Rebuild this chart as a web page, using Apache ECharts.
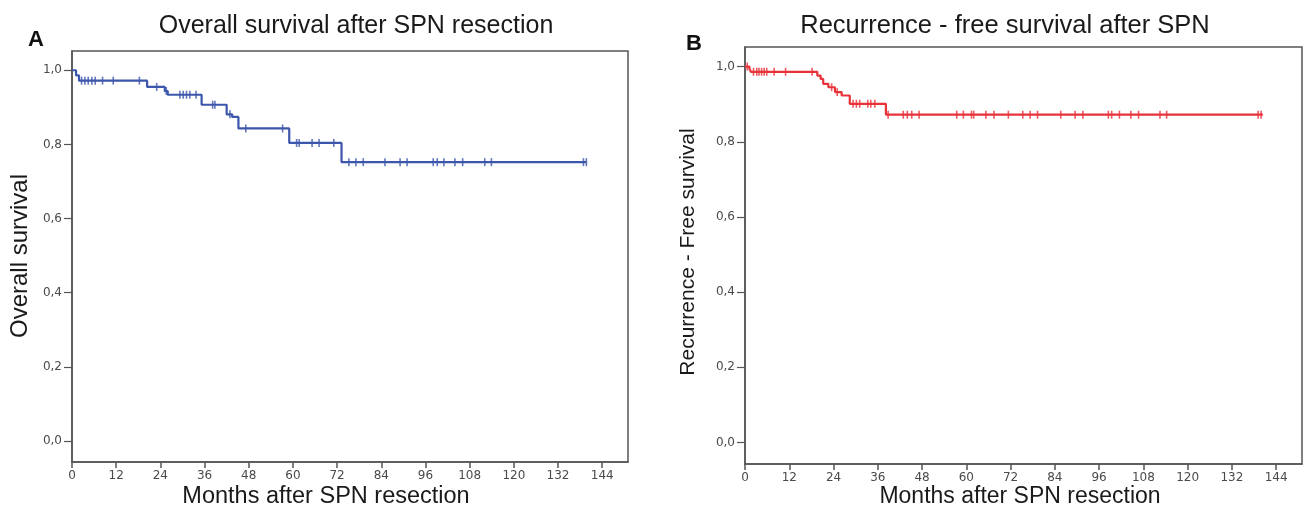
<!DOCTYPE html>
<html>
<head>
<meta charset="utf-8">
<script src="https://cdn.jsdelivr.net/npm/echarts@6/dist/echarts.min.js"></script>
<style>
html,body{margin:0;padding:0;background:#fff;}
#chart{width:1308px;height:513px;}
</style>
</head>
<body>
<div id="chart"></div>
<script>
// ---- Data ----
const xTicks = [0, 12, 24, 36, 48, 60, 72, 84, 96, 108, 120, 132, 144];
const yTicks = [0, 0.2, 0.4, 0.6, 0.8, 1.0];

// Panel A: overall survival (Kaplan-Meier steps)
const osEventTimes  = [0, 1.1, 1.9, 20.4, 25.2, 26.0, 35.2, 42.0, 43.5, 45.2, 59.0, 73.2, 139.7];
const osEventValues = [1.0, 0.986, 0.972, 0.955, 0.944, 0.934, 0.907, 0.881, 0.874, 0.843, 0.804, 0.752, 0.752];
const osCensorTimes = [2.6, 3.5, 4.4, 5.4, 6.3, 8.3, 11.2, 18.3, 23.0, 25.6, 29.3, 30.2, 31.1, 32.0, 33.7,
  38.2, 38.8, 42.9, 47.2, 57.2, 61.0, 61.7, 65.2, 67.1, 71.1, 75.2, 77.1, 79.1, 85.0, 89.1, 91.0,
  98.1, 99.2, 101.0, 104.0, 106.1, 112.1, 113.9, 138.9, 139.7];

// Panel B: recurrence-free survival
const rfsEventTimes  = [0, 1.2, 1.6, 19.6, 20.5, 21.2, 22.6, 24.4, 26.2, 28.4, 38.2, 140.4];
const rfsEventValues = [1.0, 0.994, 0.986, 0.976, 0.967, 0.954, 0.945, 0.932, 0.923, 0.901, 0.872, 0.872];
const rfsCensorTimes = [0.6, 2.3, 3.2, 3.8, 4.5, 5.2, 5.9, 7.9, 11.0, 18.2, 23.5, 25.0, 29.3, 30.2, 31.1,
  33.3, 34.1, 35.2, 38.8, 42.9, 44.0, 45.2, 47.2, 57.4, 59.2, 61.4, 62.0, 65.3, 67.5, 71.4, 75.3,
  77.3, 79.3, 85.6, 89.5, 91.6, 98.5, 99.4, 101.5, 104.6, 106.7, 112.5, 114.3, 139.1, 139.9];

const titles = ['Overall survival after SPN resection', 'Recurrence - free survival after SPN'];
const yNames = ['Overall survival', 'Recurrence - Free survival'];
const xName = 'Months after SPN resection';

// ---- helpers ----
function pairs(ts, vs){ return ts.map((t,i)=>[t, vs[i]]); }
function valueAt(ts, vs, t){ let v = vs[0]; for(let i=0;i<ts.length;i++){ if(ts[i] <= t) v = vs[i]; } return v; }
function censorPts(cs, ts, vs){ return cs.map(t=>[t, valueAt(ts, vs, t)]); }

const fmt = v => v.toFixed(1).replace('.', ',');
const axisColor = '#555';
const labelFont = {color:'#4a4a4a', fontFamily:'DejaVu Sans', fontSize:12};

function makeX(gi){
  return {type:'value', gridIndex:gi, min:0, max:151,
    axisLine:{show:true, onZero:false, lineStyle:{color:axisColor, width:1.5}},
    axisTick:{show:true, length:6, customValues:xTicks, lineStyle:{color:axisColor, width:1.5}},
    axisLabel:{customValues:xTicks, margin:8, ...labelFont},
    splitLine:{show:false}};
}
function makeY(gi){
  return {type:'value', gridIndex:gi, min:-0.057, max:1.052,
    axisLine:{show:true, onZero:false, lineStyle:{color:axisColor, width:1.5}},
    axisTick:{show:true, length:8, customValues:yTicks, lineStyle:{color:axisColor, width:1.2}},
    axisLabel:{customValues:yTicks, margin:10, formatter:fmt, ...labelFont},
    splitLine:{show:false}};
}

const blue = '#3c56ab', red = '#e8323a';

const option = {
  animation:false,
  backgroundColor:'#ffffff',
  grid:[
    {left:72, top:51, width:556, height:411, show:true, borderColor:axisColor, borderWidth:1.5, backgroundColor:'transparent'},
    {left:745, top:47, width:557, height:417, show:true, borderColor:axisColor, borderWidth:1.5, backgroundColor:'transparent'}
  ],
  xAxis:[makeX(0), makeX(1)],
  yAxis:[makeY(0), makeY(1)],
  series:[
    {type:'line', xAxisIndex:0, yAxisIndex:0, step:'end', symbol:'none',
      lineStyle:{color:blue, width:2.2}, data:pairs(osEventTimes, osEventValues)},
    {type:'scatter', xAxisIndex:0, yAxisIndex:0, symbol:'rect', symbolSize:[1.6, 8],
      itemStyle:{color:blue}, data:censorPts(osCensorTimes, osEventTimes, osEventValues)},
    {type:'line', xAxisIndex:1, yAxisIndex:1, step:'end', symbol:'none',
      lineStyle:{color:red, width:2.2}, data:pairs(rfsEventTimes, rfsEventValues)},
    {type:'scatter', xAxisIndex:1, yAxisIndex:1, symbol:'rect', symbolSize:[1.6, 8],
      itemStyle:{color:red}, data:censorPts(rfsCensorTimes, rfsEventTimes, rfsEventValues)}
  ],
  graphic:[
    {type:'text', x:356, y:26, style:{text:titles[0], fill:'#1a1a1a', font:'25px "Liberation Sans", Arial, sans-serif', align:'center', verticalAlign:'middle'}},
    {type:'text', x:1005, y:26, style:{text:titles[1], fill:'#1a1a1a', font:'25.5px "Liberation Sans", Arial, sans-serif', align:'center', verticalAlign:'middle'}},
    {type:'text', x:36, y:40, style:{text:'A', fill:'#111', font:'bold 22px "Liberation Sans", Arial, sans-serif', align:'center', verticalAlign:'middle'}},
    {type:'text', x:694, y:44, style:{text:'B', fill:'#111', font:'bold 22px "Liberation Sans", Arial, sans-serif', align:'center', verticalAlign:'middle'}},
    {type:'text', x:326, y:497, style:{text:xName, fill:'#1a1a1a', font:'23.5px "Liberation Sans", Arial, sans-serif', align:'center', verticalAlign:'middle'}},
    {type:'text', x:1020, y:497, style:{text:xName, fill:'#1a1a1a', font:'23px "Liberation Sans", Arial, sans-serif', align:'center', verticalAlign:'middle'}},
    {type:'text', x:20, y:256, rotation:Math.PI/2, style:{text:yNames[0], fill:'#1a1a1a', font:'24px "Liberation Sans", Arial, sans-serif', align:'center', verticalAlign:'middle'}},
    {type:'text', x:688, y:252, rotation:Math.PI/2, style:{text:yNames[1], fill:'#1a1a1a', font:'21px "Liberation Sans", Arial, sans-serif', align:'center', verticalAlign:'middle'}}
  ]
};

const chart = echarts.init(document.getElementById('chart'), null, {renderer:'canvas'});
chart.setOption(option);
</script>
</body>
</html>
